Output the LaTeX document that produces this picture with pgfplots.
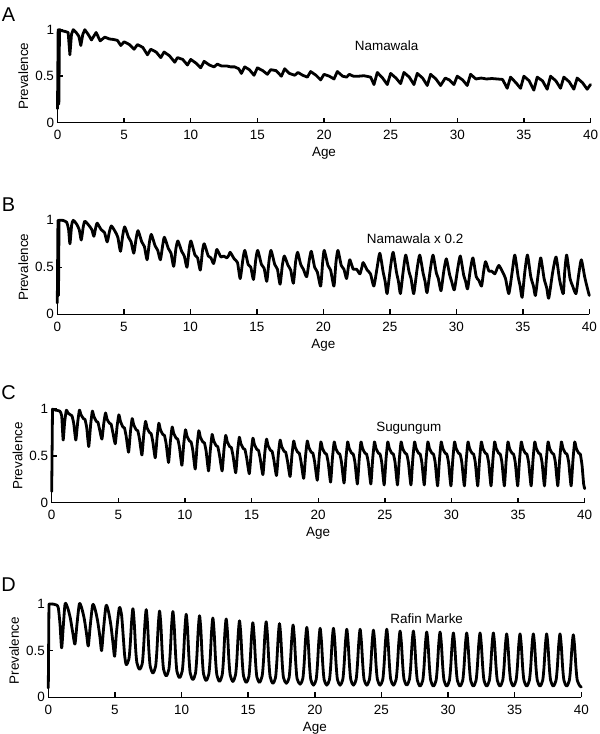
\documentclass[border=0pt]{standalone}
\usepackage{fontspec}
\setmainfont{Liberation Sans}
\usepackage{pgfplots}
\pgfplotsset{compat=1.18}
\pgfplotsset{
  panel/.style={
    scale only axis, width=533bp, height=93bp,
    xmin=0, xmax=40, ymin=0, ymax=1,
    axis x line*=bottom, axis y line*=left,
    axis line style={line width=1.4bp},
    xtick={0,5,...,40}, ytick={0,0.5,1},
    yticklabels={0,0.5,1},
    tick style={line width=1.4bp, black},
    major tick length=5bp,
    tick align=inside,
    ticklabel style={font=\fontsize{13.5}{16}\selectfont},
    /pgf/number format/assume math mode=true,
    xticklabel style={yshift=-4bp},
    label style={font=\fontsize{13.5}{16}\selectfont},
    xlabel={Age}, ylabel={Prevalence},
    xlabel style={at={(axis description cs:0.5,-0.33)}, anchor=center},
    ylabel style={at={(axis description cs:-0.064,0.5)}, anchor=center},
    clip=false,
  },
  curve/.style={black, line width=2.8bp, line join=round, line cap=round, mark=none},
}
\begin{document}
\begin{tikzpicture}
\path[use as bounding box] (0,0) rectangle (600bp,734bp);
\node[font=\fontsize{20}{24}\selectfont] at (8.5bp,719bp) {A};
\node[font=\fontsize{20}{24}\selectfont] at (8.5bp,529bp) {B};
\node[font=\fontsize{20}{24}\selectfont] at (8.5bp,341bp) {C};
\node[font=\fontsize{20}{24}\selectfont] at (8.5bp,149bp) {D};

% ---------------- A
\begin{axis}[panel, at={(57.5bp,611.3bp)}, anchor=south west]
\addplot[curve] coordinates {
(0,0.15)(0.05,1)(0.1,0.2)(0.15,1)(0.3,0.99)(0.6,0.98)(0.8,0.97)(0.93,0.73)(1.05,0.95)(1.18,1.0)(1.4,0.97)(1.6,0.93)(1.75,0.83)(1.9,0.95)(2.05,1.0)(2.3,0.95)(2.55,0.89)(2.9,0.97)(3.2,0.88)(3.55,0.92)(3.9,0.90)(4.2,0.895)(4.5,0.885)(4.75,0.83)(5.0,0.87)(5.4,0.84)(5.75,0.79)(6.0,0.84)(6.4,0.81)(6.75,0.73)(7.0,0.79)(7.4,0.76)(7.75,0.70)(8.0,0.76)(8.4,0.72)(8.8,0.65)(9.0,0.70)(9.4,0.68)(9.75,0.62)(10.0,0.68)(10.4,0.64)(10.75,0.59)(11.0,0.66)(11.4,0.62)(11.75,0.60)(12.0,0.63)(12.3,0.61)(12.7,0.61)(13.0,0.60)(13.3,0.60)(13.6,0.58)(13.8,0.53)(14.05,0.60)(14.4,0.57)(14.75,0.51)(15.0,0.59)(15.4,0.56)(15.75,0.52)(16.0,0.57)(16.4,0.56)(16.8,0.50)(17.05,0.58)(17.4,0.53)(17.8,0.51)(18.05,0.54)(18.4,0.51)(18.75,0.49)(19.0,0.55)(19.4,0.51)(19.75,0.46)(20.0,0.52)(20.4,0.50)(20.75,0.47)(21.0,0.55)(21.4,0.50)(21.7,0.49)(21.9,0.52)(22.2,0.50)(22.6,0.50)(23.0,0.505)(23.5,0.49)(23.75,0.41)(24.0,0.54)(24.4,0.48)(24.75,0.41)(25.0,0.53)(25.4,0.48)(25.75,0.42)(26.0,0.54)(26.4,0.49)(26.75,0.41)(27.0,0.53)(27.4,0.48)(27.75,0.40)(28.0,0.52)(28.4,0.47)(28.75,0.40)(29.1,0.48)(29.4,0.46)(29.75,0.41)(30.0,0.50)(30.4,0.46)(30.75,0.40)(31.0,0.52)(31.4,0.47)(31.8,0.48)(32.2,0.47)(32.6,0.475)(33.0,0.47)(33.4,0.465)(33.75,0.37)(34.0,0.49)(34.4,0.43)(34.75,0.37)(35.0,0.50)(35.4,0.45)(35.75,0.35)(36.0,0.49)(36.4,0.45)(36.75,0.36)(37.0,0.50)(37.4,0.45)(37.75,0.37)(38.0,0.49)(38.4,0.44)(38.75,0.36)(39.0,0.48)(39.4,0.43)(39.75,0.36)(40.0,0.41)
};
\node[font=\fontsize{13.5}{16}\selectfont] at (axis cs:24.7,0.83) {Namawala};
\end{axis}

% ---------------- B
\begin{axis}[panel, at={(57.3bp,419.7bp)}, anchor=south west, height=94bp, width=532bp]
\addplot[curve] coordinates {(0,0.12)(0.05,1)(0.09,0.2)(0.13,1)(0.4,1.0)};
\addplot[curve, smooth, tension=0.35] coordinates {
(0.4,1.0)(0.7,0.98)(0.85,0.9)(0.95,0.75)(1.08,0.95)(1.2,1.0)(1.45,0.96)(1.65,0.9)(1.8,0.79)(1.95,0.93)(2.07,0.99)(2.35,0.95)(2.6,0.9)(2.75,0.83)(2.9,0.93)(3.0,0.97)(3.3,0.90)(3.55,0.87)(3.75,0.77)(3.92,0.88)(4.07,0.94)(4.35,0.88)(4.55,0.82)(4.75,0.67)(4.92,0.84)(5.07,0.93)(5.35,0.82)(5.55,0.77)(5.75,0.65)(5.92,0.80)(6.07,0.89)(6.35,0.77)(6.55,0.72)(6.75,0.58)(6.92,0.76)(7.07,0.85)(7.35,0.73)(7.55,0.68)(7.75,0.58)(7.92,0.73)(8.05,0.82)(8.35,0.70)(8.55,0.65)(8.75,0.51)(8.92,0.70)(9.07,0.78)(9.35,0.67)(9.55,0.62)(9.75,0.50)(9.92,0.70)(10.05,0.78)(10.35,0.63)(10.55,0.60)(10.75,0.47)(10.92,0.68)(11.05,0.75)(11.35,0.62)(11.55,0.60)(11.75,0.54)(11.9,0.63)(12.0,0.69)(12.3,0.61)(12.5,0.62)(12.75,0.60)(12.9,0.63)(13.0,0.66)(13.3,0.59)(13.55,0.55)(13.75,0.38)(13.95,0.58)(14.1,0.68)(14.35,0.53)(14.55,0.50)(14.75,0.37)(14.92,0.58)(15.07,0.68)(15.35,0.53)(15.55,0.49)(15.75,0.35)(15.92,0.57)(16.07,0.68)(16.35,0.53)(16.55,0.48)(16.75,0.32)(16.92,0.52)(17.07,0.62)(17.35,0.52)(17.55,0.47)(17.75,0.33)(17.92,0.56)(18.07,0.66)(18.3,0.53)(18.5,0.48)(18.75,0.40)(18.95,0.58)(19.1,0.67)(19.35,0.50)(19.55,0.45)(19.8,0.30)(19.95,0.55)(20.07,0.68)(20.35,0.52)(20.55,0.47)(20.8,0.30)(20.95,0.55)(21.1,0.68)(21.35,0.52)(21.55,0.48)(21.75,0.38)(21.9,0.52)(22.0,0.58)(22.25,0.48)(22.5,0.48)(22.75,0.43)(22.9,0.50)(23.0,0.55)(23.3,0.47)(23.55,0.43)(23.8,0.30)(24.05,0.50)(24.25,0.65)(24.5,0.45)(24.65,0.35)(24.8,0.22)(25.05,0.50)(25.25,0.66)(25.5,0.45)(25.65,0.35)(25.8,0.22)(26.0,0.45)(26.2,0.63)(26.45,0.45)(26.6,0.38)(26.8,0.22)(27.05,0.48)(27.25,0.63)(27.5,0.44)(27.65,0.35)(27.8,0.23)(28.05,0.48)(28.25,0.63)(28.5,0.44)(28.65,0.38)(28.85,0.25)(29.05,0.45)(29.25,0.59)(29.5,0.42)(29.65,0.35)(29.85,0.26)(30.1,0.48)(30.3,0.62)(30.55,0.42)(30.7,0.35)(30.85,0.27)(31.05,0.47)(31.25,0.60)(31.5,0.40)(31.7,0.36)(31.9,0.30)(32.05,0.45)(32.2,0.56)(32.45,0.46)(32.65,0.46)(32.9,0.43)(33.05,0.48)(33.2,0.52)(33.45,0.46)(33.7,0.38)(33.95,0.22)(34.2,0.45)(34.4,0.63)(34.65,0.40)(34.8,0.30)(34.95,0.18)(35.15,0.45)(35.35,0.63)(35.6,0.40)(35.8,0.30)(35.95,0.20)(36.15,0.42)(36.35,0.60)(36.6,0.38)(36.8,0.28)(36.95,0.17)(37.25,0.45)(37.5,0.61)(37.75,0.38)(37.9,0.28)(38.05,0.22)(38.15,0.45)(38.3,0.63)(38.55,0.38)(38.75,0.30)(39.0,0.22)(39.2,0.42)(39.4,0.58)(39.65,0.40)(39.85,0.28)(40.0,0.20)
};
\node[font=\fontsize{13.5}{16}\selectfont] at (axis cs:26.9,0.806) {Namawala x 0.2};
\end{axis}

% ---------------- C
\begin{axis}[panel, at={(51.7bp,231.3bp)}, anchor=south west, height=93.5bp]
\addplot[curve] coordinates {(0,0.12)(0.06,1.0)(0.3,0.99)};
\addplot[curve, smooth, tension=0.3] coordinates {
(0.3,0.99)(0.6,0.98)(0.75,0.93)
(0.86,0.67)(0.97,0.86)(1.10,0.99)(1.22,0.96)(1.40,0.94)(1.52,0.93)(1.65,0.85)
(1.81,0.67)(1.95,0.86)(2.08,0.99)(2.20,0.94)(2.38,0.90)(2.50,0.89)(2.63,0.80)
(2.78,0.60)(2.92,0.83)(3.05,0.98)(3.17,0.92)(3.35,0.87)(3.47,0.86)(3.60,0.78)
(3.77,0.68)(3.91,0.85)(4.04,0.96)(4.16,0.89)(4.34,0.85)(4.46,0.84)(4.59,0.75)
(4.77,0.63)(4.91,0.82)(5.04,0.94)(5.16,0.87)(5.34,0.81)(5.46,0.80)(5.59,0.71)
(5.77,0.54)(5.91,0.76)(6.04,0.90)(6.16,0.83)(6.34,0.78)(6.46,0.77)(6.59,0.68)
(6.77,0.51)(6.91,0.73)(7.04,0.87)(7.16,0.80)(7.34,0.75)(7.46,0.74)(7.59,0.65)
(7.77,0.48)(7.91,0.70)(8.04,0.85)(8.16,0.78)(8.34,0.73)(8.46,0.72)(8.59,0.63)
(8.77,0.43)(8.91,0.66)(9.04,0.81)(9.16,0.74)(9.34,0.69)(9.46,0.68)(9.59,0.59)
(9.77,0.40)(9.91,0.63)(10.04,0.78)(10.16,0.71)(10.34,0.66)(10.46,0.65)(10.59,0.56)
(10.77,0.36)(10.91,0.61)(11.04,0.77)(11.16,0.70)(11.34,0.65)(11.46,0.64)(11.59,0.55)
(11.77,0.34)(11.91,0.57)(12.04,0.73)(12.16,0.66)(12.34,0.61)(12.46,0.60)(12.59,0.51)
(12.79,0.34)(12.93,0.57)(13.06,0.72)(13.18,0.65)(13.36,0.60)(13.48,0.59)(13.61,0.50)
(13.81,0.32)(13.95,0.55)(14.08,0.70)(14.20,0.63)(14.38,0.58)(14.50,0.57)(14.63,0.48)
(14.83,0.31)(14.97,0.54)(15.10,0.69)(15.22,0.62)(15.40,0.57)(15.52,0.56)(15.65,0.47)
(15.85,0.30)(15.99,0.53)(16.12,0.68)(16.24,0.61)(16.42,0.56)(16.54,0.55)(16.67,0.46)
(16.87,0.29)(17.01,0.52)(17.14,0.67)(17.26,0.60)(17.44,0.55)(17.56,0.54)(17.69,0.45)
(17.89,0.28)(18.03,0.51)(18.16,0.66)(18.28,0.59)(18.46,0.54)(18.58,0.53)(18.71,0.44)
(18.91,0.26)(19.05,0.50)(19.18,0.66)(19.30,0.59)(19.48,0.54)(19.60,0.53)(19.73,0.44)
(19.93,0.24)(20.07,0.48)(20.20,0.65)(20.32,0.58)(20.50,0.53)(20.62,0.52)(20.75,0.43)
(20.93,0.22)(21.07,0.48)(21.20,0.65)(21.32,0.58)(21.50,0.53)(21.62,0.52)(21.75,0.43)
(21.94,0.21)(22.08,0.47)(22.21,0.65)(22.33,0.58)(22.51,0.53)(22.63,0.52)(22.76,0.43)
(22.94,0.20)(23.08,0.47)(23.21,0.65)(23.33,0.58)(23.51,0.53)(23.63,0.52)(23.76,0.43)
(23.95,0.20)(24.09,0.47)(24.22,0.65)(24.34,0.58)(24.52,0.53)(24.64,0.52)(24.77,0.43)
(24.95,0.19)(25.09,0.47)(25.22,0.65)(25.34,0.58)(25.52,0.53)(25.64,0.52)(25.77,0.43)
(25.95,0.19)(26.09,0.47)(26.22,0.65)(26.34,0.58)(26.52,0.53)(26.64,0.52)(26.77,0.43)
(26.96,0.19)(27.10,0.47)(27.23,0.65)(27.35,0.58)(27.53,0.53)(27.65,0.52)(27.78,0.43)
(27.96,0.19)(28.10,0.47)(28.23,0.65)(28.35,0.58)(28.53,0.53)(28.65,0.52)(28.78,0.43)
(28.96,0.18)(29.10,0.46)(29.23,0.65)(29.35,0.58)(29.53,0.53)(29.65,0.52)(29.78,0.43)
(29.96,0.18)(30.10,0.46)(30.23,0.65)(30.35,0.58)(30.53,0.53)(30.65,0.52)(30.78,0.43)
(30.97,0.18)(31.11,0.46)(31.24,0.65)(31.36,0.58)(31.54,0.53)(31.66,0.52)(31.79,0.43)
(31.97,0.18)(32.11,0.46)(32.24,0.65)(32.36,0.58)(32.54,0.53)(32.66,0.52)(32.79,0.43)
(32.97,0.18)(33.11,0.46)(33.24,0.65)(33.36,0.58)(33.54,0.53)(33.66,0.52)(33.79,0.43)
(33.97,0.18)(34.11,0.46)(34.24,0.65)(34.36,0.58)(34.54,0.53)(34.66,0.52)(34.79,0.43)
(34.97,0.18)(35.11,0.46)(35.24,0.65)(35.36,0.58)(35.54,0.53)(35.66,0.52)(35.79,0.43)
(35.98,0.18)(36.12,0.46)(36.25,0.65)(36.37,0.58)(36.55,0.53)(36.67,0.52)(36.80,0.43)
(36.98,0.18)(37.12,0.46)(37.25,0.65)(37.37,0.58)(37.55,0.53)(37.67,0.52)(37.80,0.43)
(37.98,0.18)(38.12,0.46)(38.25,0.65)(38.37,0.58)(38.55,0.53)(38.67,0.52)(38.80,0.43)
(38.98,0.18)(39.12,0.46)(39.25,0.65)(39.37,0.58)(39.55,0.53)(39.67,0.52)(39.80,0.40)(39.92,0.20)(40.0,0.15)
};
\node[font=\fontsize{13.5}{16}\selectfont] at (axis cs:26.8,0.80) {Sugungum};
\end{axis}

% ---------------- D
\begin{axis}[panel, at={(48.3bp,36.7bp)}, anchor=south west, height=93.3bp]
\addplot[curve] coordinates {(0,0.1)(0.05,1.0)(0.3,1.0)};
\addplot[curve, smooth, tension=0.45] coordinates {
(0.3,1.0)(0.6,0.99)(0.75,0.96)(0.88,0.78)(1.0,0.53)(1.12,0.75)(1.26,1.0)(1.45,0.96)(1.65,0.85)(1.85,0.68)(2.0,0.57)(2.15,0.78)(2.33,1.0)(2.5,0.96)(2.7,0.84)(2.87,0.68)(3.0,0.55)(3.15,0.77)(3.33,0.99)(3.5,0.95)(3.7,0.82)(3.88,0.64)(4.0,0.50)(4.15,0.74)(4.33,0.98)(4.5,0.93)(4.7,0.77)(4.87,0.56)(4.98,0.44)(5.12,0.70)(5.33,0.96)(5.5,0.88)(5.62,0.66)(5.73,0.45)
(5.85,0.35)(6.05,0.41)(6.15,0.57)(6.25,0.81)(6.35,0.95)(6.45,0.80)(6.55,0.53)(6.65,0.37)
(6.85,0.30)(7.05,0.36)(7.15,0.53)(7.25,0.79)(7.35,0.94)(7.45,0.78)(7.55,0.50)(7.65,0.33)
(7.85,0.26)(8.05,0.33)(8.15,0.50)(8.25,0.77)(8.35,0.925)(8.45,0.77)(8.55,0.48)(8.65,0.30)
(8.85,0.23)(9.05,0.30)(9.15,0.48)(9.25,0.76)(9.35,0.92)(9.45,0.76)(9.55,0.47)(9.65,0.28)
(9.85,0.21)(10.05,0.28)(10.15,0.45)(10.25,0.73)(10.35,0.89)(10.45,0.73)(10.55,0.44)(10.65,0.26)
(10.85,0.19)(11.05,0.26)(11.15,0.44)(11.25,0.72)(11.35,0.875)(11.45,0.72)(11.55,0.43)(11.65,0.25)
(11.85,0.18)(12.05,0.25)(12.15,0.42)(12.25,0.70)(12.35,0.85)(12.45,0.69)(12.55,0.41)(12.65,0.24)
(12.85,0.17)(13.05,0.24)(13.15,0.41)(13.25,0.69)(13.35,0.84)(13.45,0.69)(13.55,0.41)(13.65,0.24)
(13.85,0.17)(14.05,0.24)(14.15,0.40)(14.25,0.67)(14.35,0.82)(14.45,0.67)(14.55,0.40)(14.65,0.23)
(14.85,0.16)(15.05,0.22)(15.15,0.39)(15.25,0.65)(15.35,0.80)(15.45,0.65)(15.55,0.39)(15.65,0.22)
(15.85,0.16)(16.05,0.23)(16.15,0.39)(16.25,0.66)(16.35,0.81)(16.45,0.66)(16.55,0.39)(16.65,0.22)
(16.85,0.15)(17.05,0.21)(17.15,0.38)(17.25,0.64)(17.35,0.79)(17.45,0.64)(17.55,0.38)(17.65,0.21)
(17.87,0.15)(18.07,0.21)(18.17,0.38)(18.27,0.63)(18.37,0.775)(18.47,0.63)(18.57,0.37)(18.67,0.20)
(18.9,0.14)(19.1,0.20)(19.2,0.36)(19.3,0.61)(19.4,0.75)(19.5,0.61)(19.6,0.35)(19.7,0.19)
(19.9,0.13)(20.1,0.19)(20.2,0.35)(20.3,0.60)(20.4,0.74)(20.5,0.60)(20.6,0.35)(20.7,0.19)
(20.9,0.13)(21.1,0.19)(21.2,0.35)(21.3,0.60)(21.4,0.74)(21.5,0.60)(21.6,0.35)(21.7,0.19)
(21.9,0.13)(22.1,0.19)(22.2,0.35)(22.3,0.59)(22.4,0.73)(22.5,0.59)(22.6,0.35)(22.7,0.19)
(22.9,0.13)(23.1,0.19)(23.2,0.35)(23.3,0.59)(23.4,0.73)(23.5,0.59)(23.6,0.35)(23.7,0.19)
(23.9,0.13)(24.1,0.19)(24.2,0.34)(24.3,0.58)(24.4,0.72)(24.5,0.58)(24.6,0.34)(24.7,0.19)
(24.9,0.13)(25.1,0.19)(25.2,0.35)(25.3,0.59)(25.4,0.73)(25.5,0.59)(25.6,0.35)(25.7,0.19)
(25.9,0.13)(26.1,0.19)(26.2,0.34)(26.3,0.58)(26.4,0.71)(26.5,0.58)(26.6,0.34)(26.7,0.19)
(26.9,0.13)(27.1,0.19)(27.2,0.34)(27.3,0.58)(27.4,0.71)(27.5,0.57)(27.6,0.33)(27.7,0.18)
(27.9,0.12)(28.1,0.18)(28.2,0.33)(28.3,0.57)(28.4,0.70)(28.5,0.57)(28.6,0.33)(28.7,0.18)
(28.9,0.12)(29.1,0.18)(29.2,0.33)(29.3,0.57)(29.4,0.70)(29.5,0.57)(29.6,0.33)(29.7,0.18)
(29.9,0.12)(30.1,0.18)(30.2,0.33)(30.3,0.56)(30.4,0.69)(30.5,0.56)(30.6,0.33)(30.7,0.18)
(30.9,0.12)(31.1,0.18)(31.2,0.33)(31.3,0.56)(31.4,0.69)(31.5,0.56)(31.6,0.33)(31.7,0.18)
(31.9,0.12)(32.1,0.18)(32.2,0.33)(32.3,0.56)(32.4,0.69)(32.5,0.56)(32.6,0.33)(32.7,0.18)
(32.9,0.12)(33.1,0.18)(33.2,0.33)(33.3,0.56)(33.4,0.69)(33.5,0.56)(33.6,0.33)(33.7,0.18)
(33.9,0.12)(34.1,0.18)(34.2,0.32)(34.3,0.55)(34.4,0.68)(34.5,0.55)(34.6,0.32)(34.7,0.18)
(34.9,0.12)(35.1,0.18)(35.2,0.32)(35.3,0.55)(35.4,0.68)(35.5,0.55)(35.6,0.32)(35.7,0.18)
(35.9,0.12)(36.1,0.18)(36.2,0.32)(36.3,0.55)(36.4,0.68)(36.5,0.55)(36.6,0.32)(36.7,0.18)
(36.9,0.12)(37.1,0.18)(37.2,0.32)(37.3,0.55)(37.4,0.68)(37.5,0.55)(37.6,0.32)(37.7,0.18)
(37.9,0.12)(38.1,0.18)(38.2,0.32)(38.3,0.55)(38.4,0.68)(38.5,0.55)(38.6,0.32)(38.7,0.18)
(38.9,0.12)(39.1,0.18)(39.2,0.32)(39.3,0.54)(39.4,0.67)(39.5,0.54)(39.6,0.32)(39.7,0.18)(39.9,0.12)(40.0,0.11)
};
\node[font=\fontsize{13.5}{16}\selectfont] at (axis cs:28.4,0.847) {Rafin Marke};
\end{axis}
\end{tikzpicture}
\end{document}
